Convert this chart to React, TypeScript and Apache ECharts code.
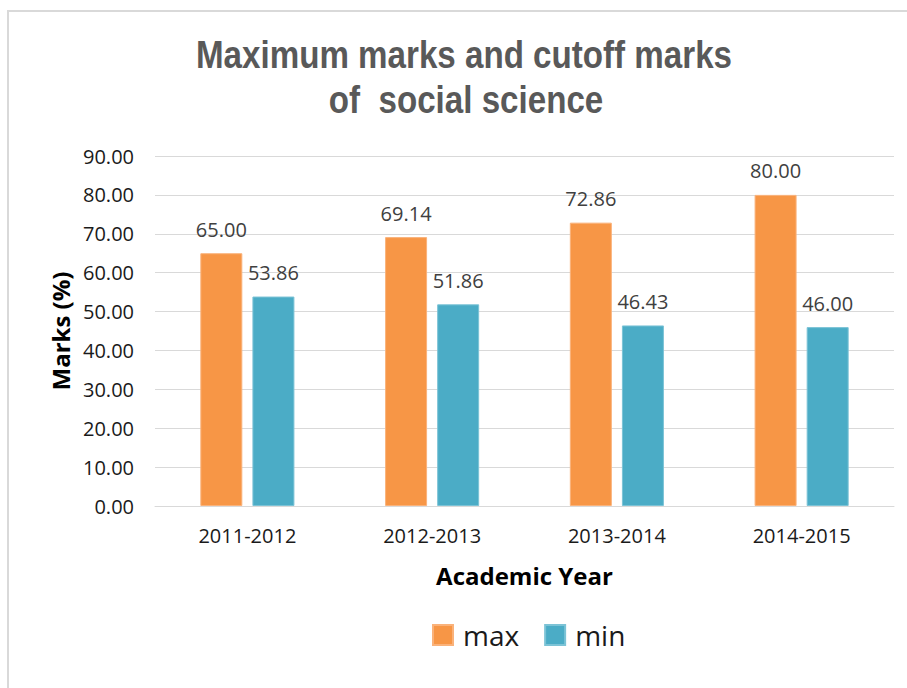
import React, { useEffect, useRef } from "react";
import * as echarts from "echarts";

const categories = ["2011-2012", "2012-2013", "2013-2014", "2014-2015"];
const maxValues = [65.0, 69.14, 72.86, 80.0];
const minValues = [53.86, 51.86, 46.43, 46.0];
const titleLines = ["Maximum marks and cutoff marks", "of  social science"];
const legendNames = ["max", "min"];

export default function App() {
  const ref = useRef<HTMLDivElement>(null);
  useEffect(() => {
    if (!ref.current) return;
    const chart = echarts.init(ref.current, null, { renderer: "svg" });
    const font = "'Open Sans', 'DejaVu Sans', sans-serif";
    const titleFont = "bold 39px 'Liberation Sans Narrow', 'Liberation Sans', Arial, sans-serif";
    chart.setOption({
      animation: false,
      backgroundColor: "#ffffff",
      graphic: [
        {
          type: "rect",
          shape: { x: 8, y: 11, width: 905, height: 690 },
          style: { fill: "none", stroke: "#d9d9d9", lineWidth: 2 },
          silent: true,
        },
        {
          type: "text",
          x: 464,
          y: 55,
          scaleX: 0.85,
          style: {
            text: titleLines[0],
            font: titleFont,
            fill: "#595959",
            textAlign: "center",
            textVerticalAlign: "middle",
          },
        },
        {
          type: "text",
          x: 466,
          y: 100,
          scaleX: 0.85,
          style: {
            text: titleLines[1],
            font: titleFont,
            fill: "#595959",
            textAlign: "center",
            textVerticalAlign: "middle",
          },
        },
      ],
      legend: {
        top: 621,
        left: 432,
        padding: 0,
        itemWidth: 20,
        itemHeight: 20,
        itemGap: 25,
        icon: "rect",
        textStyle: { fontFamily: font, fontSize: 28, color: "#1a1a1a", padding: [0, 0, 0, 5] },
        data: legendNames,
      },
      grid: { left: 155, right: 13, top: 156, bottom: 182 },
      xAxis: {
        type: "category",
        data: categories,
        axisLine: { lineStyle: { color: "#d9d9d9" } },
        axisTick: { show: false },
        axisLabel: { fontFamily: font, fontSize: 20, color: "#1a1a1a", margin: 19 },
        name: "Academic Year",
        nameLocation: "middle",
        nameGap: 57,
        nameTextStyle: { fontFamily: font, fontSize: 24, fontWeight: "bold", color: "#000" },
      },
      yAxis: {
        type: "value",
        min: 0,
        max: 90,
        interval: 10,
        axisLine: { show: false },
        axisTick: { show: false },
        splitLine: { lineStyle: { color: "#d9d9d9" } },
        axisLabel: {
          fontFamily: font,
          fontSize: 20,
          color: "#1a1a1a",
          margin: 21,
          formatter: (v: number) => v.toFixed(2),
        },
        name: "Marks (%)",
        nameLocation: "middle",
        nameRotate: 90,
        nameGap: 83,
        nameTextStyle: { fontFamily: font, fontSize: 24, fontWeight: "bold", color: "#000" },
      },
      series: [
        {
          name: "max",
          type: "bar",
          data: maxValues,
          barWidth: 42,
          barGap: "24%",
          itemStyle: { color: "#F79646", borderColor: "#FAB27A", borderWidth: 1 },
          label: {
            show: true,
            position: "top",
            distance: 14,
            fontFamily: font,
            fontSize: 20,
            color: "#404040",
            formatter: (p: any) => Number(p.value).toFixed(2),
          },
        },
        {
          name: "min",
          type: "bar",
          data: minValues,
          barWidth: 42,
          itemStyle: { color: "#4BACC6", borderColor: "#7CC3D6", borderWidth: 1 },
          label: {
            show: true,
            position: "top",
            distance: 14,
            fontFamily: font,
            fontSize: 20,
            color: "#404040",
            formatter: (p: any) => Number(p.value).toFixed(2),
          },
        },
      ],
    });
    return () => chart.dispose();
  }, []);
  return (
    <div
      ref={ref}
      style={{ position: "fixed", left: 0, top: 0, width: 907, height: 688 }}
    />
  );
}
